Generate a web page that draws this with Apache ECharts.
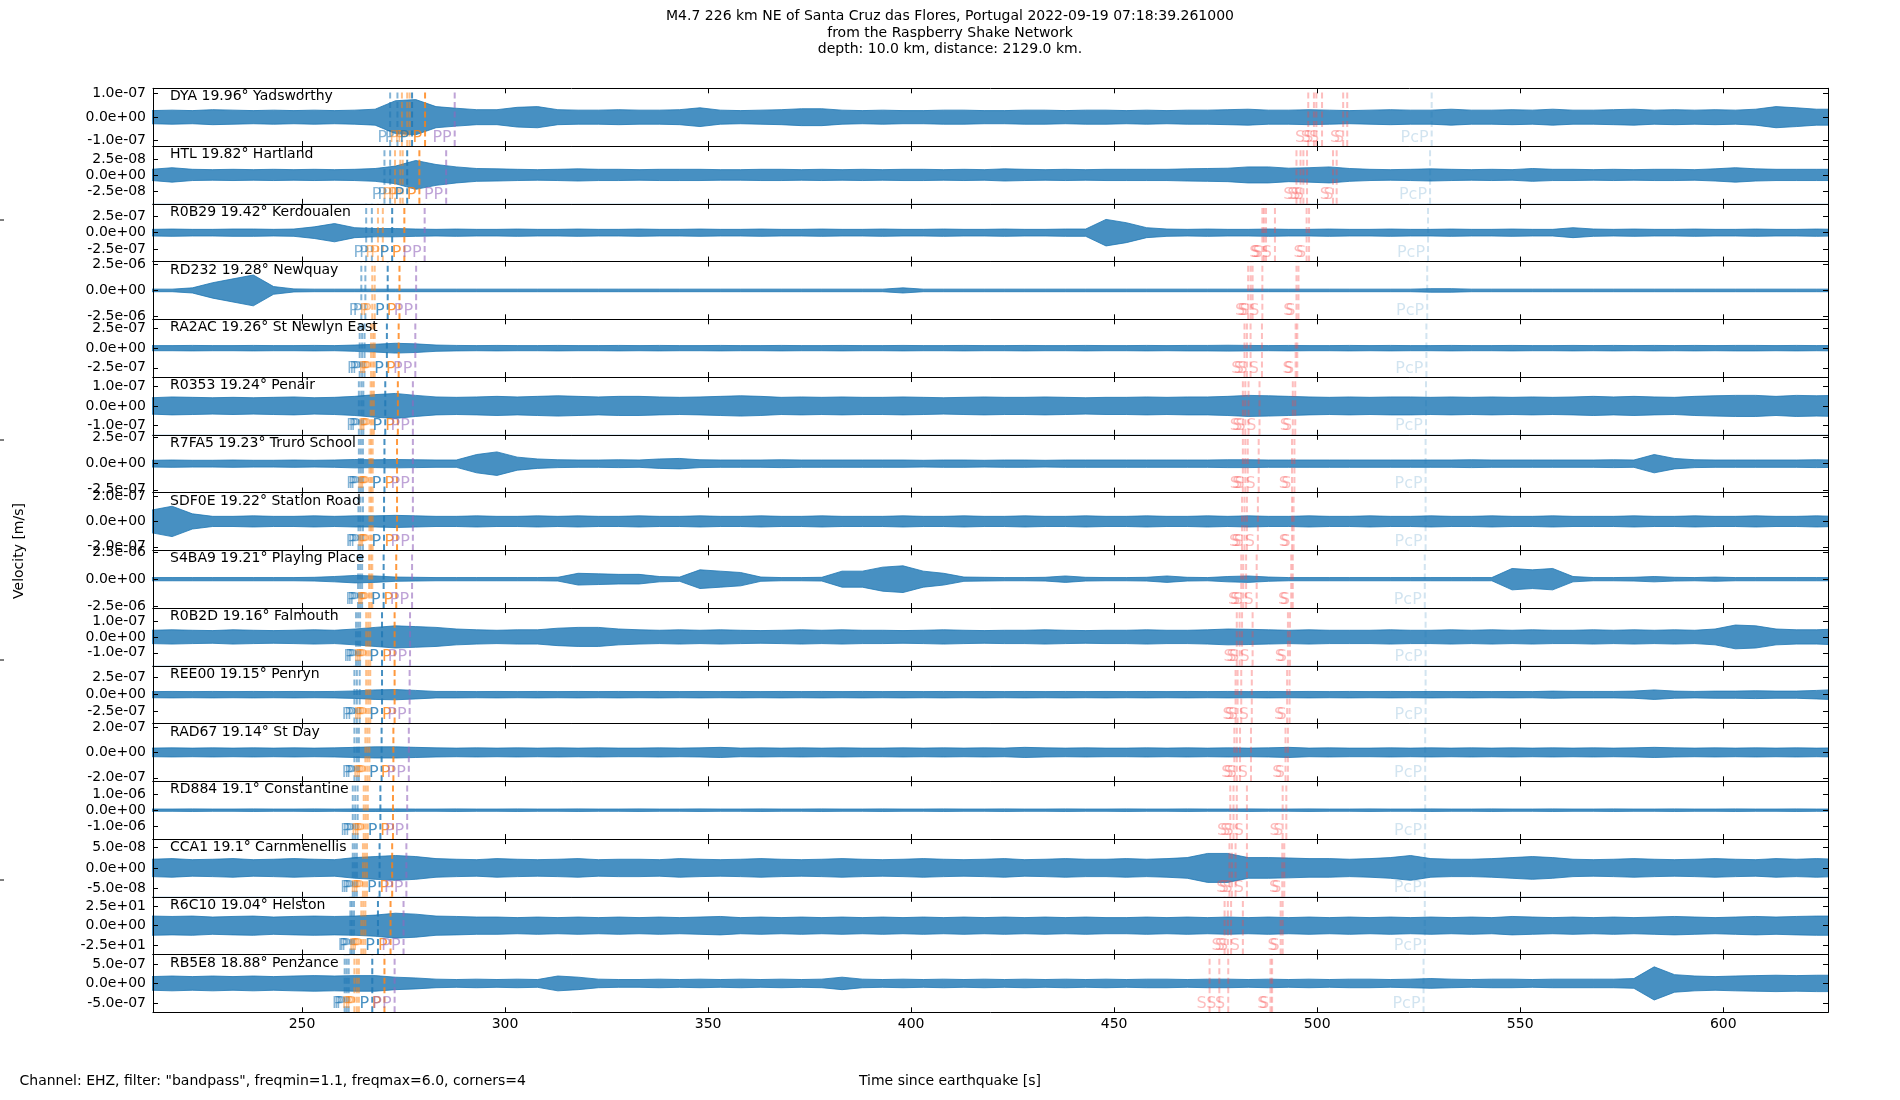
<!DOCTYPE html>
<html>
<head>
<meta charset="utf-8">
<title>M4.7 226 km NE of Santa Cruz das Flores</title>
<script src="https://cdn.jsdelivr.net/npm/echarts@6/dist/echarts.min.js"></script>
<style>
  html, body { margin: 0; padding: 0; background: #fff; }
  #chart { width: 1900px; height: 1100px; }
</style>
</head>
<body>
<div id="chart"></div>
<script>
// stations, top to bottom
const stations = ['DYA', 'HTL', 'R0B29', 'RD232', 'RA2AC', 'R0353', 'R7FA5', 'SDF0E',
  'S4BA9', 'R0B2D', 'REE00', 'RAD67', 'RD884', 'CCA1', 'R6C10', 'RB5E8'];
const distances = [19.96, 19.82, 19.42, 19.28, 19.26, 19.24, 19.23, 19.22,
  19.21, 19.16, 19.15, 19.14, 19.1, 19.1, 19.04, 18.88];
const places = ['Yadsworthy', 'Hartland', 'Kerdoualen', 'Newquay', 'St Newlyn East', 'Penair',
  'Truro School', 'Station Road', 'Playing Place', 'Falmouth', 'Penryn', 'St Day',
  'Constantine', 'Carnmenellis', 'Helston', 'Penzance'];

// y tick value (labelled +/-) and y limit of each panel
const tickValues = [1e-7, 2.5e-8, 2.5e-7, 2.5e-6, 2.5e-7, 1e-7, 2.5e-7, 2e-7,
  2.5e-6, 1e-7, 2.5e-7, 2e-7, 1e-6, 5e-8, 25, 5e-7];
const yLimits = [1.23e-7, 4.5e-8, 4.35e-7, 2.81e-6, 3.68e-7, 1.48e-7, 2.76e-7, 2.28e-7,
  2.70e-6, 1.82e-7, 4.24e-7, 2.28e-7, 1.79e-6, 6.98e-8, 37.6, 7.4e-7];

const xTicks = [250, 300, 350, 400, 450, 500, 550, 600];
const xMin = 213.3, xMax = 625.8;

// amplitude envelope every 5 s from 213 s, in units of the panel's tick value
const envDYA = [
  .28,.30,.28,.32,.30,.28,.30,.28,.30,.28,.30,.34,
  .70,.75,.45,.38,.32,.32,.42,.45,.32,.30,.30,.32,
  .30,.30,.32,.40,.30,.28,.30,.32,.36,.36,.30,.28,
  .30,.28,.28,.30,.30,.28,.28,.30,.30,.28,.30,.30,
  .28,.30,.28,.30,.30,.32,.34,.30,.30,.32,.30,.28,
  .30,.32,.30,.30,.34,.30,.30,.32,.30,.34,.30,.30,
  .32,.34,.30,.32,.30,.32,.30,.34,.45,.40,.34,.34];
const envHTL = [
  .35,.45,.35,.33,.35,.33,.35,.33,.35,.33,.35,.40,
  .55,.90,.65,.50,.40,.38,.35,.33,.35,.38,.35,.35,
  .33,.35,.35,.35,.33,.33,.35,.35,.33,.35,.33,.35,
  .33,.35,.35,.33,.35,.33,.38,.35,.33,.35,.33,.35,
  .35,.35,.35,.38,.40,.42,.50,.50,.42,.45,.50,.40,
  .35,.33,.35,.38,.35,.33,.35,.33,.40,.35,.35,.33,
  .35,.33,.35,.35,.33,.38,.45,.38,.35,.35,.35,.35];
const envR0B29 = [
  .20,.22,.20,.20,.22,.22,.20,.22,.35,.55,.30,.25,
  .25,.22,.20,.22,.20,.20,.22,.20,.20,.22,.20,.20,
  .22,.20,.20,.22,.20,.20,.22,.20,.20,.22,.20,.20,
  .22,.20,.20,.22,.20,.20,.22,.20,.20,.22,.22,.80,
  .60,.30,.22,.20,.22,.20,.20,.22,.20,.20,.22,.20,
  .20,.22,.20,.20,.22,.20,.20,.22,.20,.20,.30,.22,
  .20,.22,.20,.20,.22,.20,.20,.22,.20,.20,.22,.20];
const envRD232 = [
  .05,.05,.10,.30,.45,.60,.15,.06,.05,.05,.05,.05,
  .05,.05,.05,.05,.05,.05,.05,.05,.05,.05,.05,.05,
  .05,.05,.05,.05,.05,.05,.05,.05,.05,.05,.05,.05,
  .05,.10,.05,.05,.05,.05,.05,.05,.05,.05,.05,.05,
  .05,.05,.05,.05,.05,.05,.05,.05,.05,.05,.05,.05,
  .05,.05,.05,.07,.07,.05,.05,.05,.05,.05,.05,.05,
  .05,.05,.05,.05,.05,.05,.05,.05,.05,.05,.05,.05];
const envRA2AC = [
  .13,.13,.14,.13,.13,.14,.13,.13,.14,.13,.16,.20,
  .25,.22,.16,.14,.13,.14,.13,.13,.14,.13,.13,.14,
  .13,.14,.13,.13,.14,.13,.13,.14,.13,.13,.14,.13,
  .13,.14,.13,.13,.14,.13,.13,.14,.13,.13,.14,.13,
  .13,.14,.13,.14,.14,.15,.14,.13,.14,.13,.13,.14,
  .13,.14,.13,.13,.14,.13,.13,.14,.13,.13,.14,.13,
  .14,.13,.14,.13,.14,.13,.14,.14,.13,.14,.13,.14];
const envR0353 = [
  .42,.46,.44,.42,.44,.42,.44,.46,.42,.44,.49,.58,
  .64,.54,.46,.44,.46,.49,.46,.49,.52,.49,.46,.49,
  .49,.46,.44,.46,.49,.52,.49,.44,.46,.44,.46,.44,
  .44,.46,.44,.42,.44,.46,.44,.44,.46,.44,.42,.44,
  .44,.46,.44,.46,.46,.49,.54,.52,.49,.46,.44,.46,
  .44,.46,.46,.44,.46,.44,.46,.44,.46,.44,.46,.49,
  .46,.49,.46,.44,.49,.52,.54,.54,.49,.54,.52,.54];
const envR7FA5 = [
  .13,.14,.13,.13,.14,.13,.13,.14,.13,.14,.16,.15,
  .16,.15,.14,.14,.35,.45,.25,.18,.15,.14,.14,.15,
  .14,.18,.20,.15,.14,.14,.14,.15,.14,.14,.14,.14,
  .14,.14,.13,.14,.14,.13,.14,.14,.13,.14,.14,.14,
  .14,.14,.14,.14,.14,.15,.15,.14,.14,.14,.14,.14,
  .14,.14,.14,.14,.14,.15,.14,.14,.14,.14,.14,.14,
  .15,.14,.35,.20,.15,.14,.14,.14,.14,.14,.15,.14];
const envSDF0E = [
  .45,.60,.30,.20,.20,.22,.20,.20,.22,.20,.22,.22,
  .24,.22,.20,.20,.22,.20,.20,.22,.20,.22,.20,.20,
  .22,.20,.20,.22,.20,.20,.22,.20,.20,.22,.20,.20,
  .20,.22,.20,.20,.22,.20,.20,.22,.20,.20,.22,.20,
  .20,.22,.20,.20,.22,.20,.22,.20,.20,.22,.20,.20,
  .22,.20,.20,.22,.20,.20,.22,.20,.20,.22,.20,.20,
  .20,.22,.20,.20,.22,.20,.20,.22,.20,.20,.22,.20];
const envS4BA9 = [
  .06,.06,.06,.06,.06,.06,.06,.06,.07,.10,.14,.12,
  .08,.07,.06,.06,.06,.06,.06,.06,.07,.22,.20,.18,
  .18,.10,.08,.35,.30,.25,.08,.06,.06,.07,.30,.30,
  .45,.50,.30,.22,.08,.07,.06,.06,.07,.12,.07,.06,
  .06,.07,.12,.07,.06,.10,.12,.08,.06,.06,.06,.06,
  .06,.06,.06,.06,.06,.06,.06,.40,.35,.40,.10,.06,
  .06,.07,.10,.07,.06,.08,.06,.06,.06,.06,.06,.06];
const envR0B2D = [
  .42,.45,.42,.40,.45,.42,.40,.42,.45,.42,.50,.60,
  .70,.65,.60,.50,.45,.42,.45,.45,.55,.60,.60,.50,
  .45,.42,.45,.42,.45,.42,.40,.42,.45,.42,.45,.42,
  .42,.40,.42,.45,.42,.40,.42,.42,.45,.42,.40,.42,
  .42,.45,.42,.42,.45,.50,.48,.45,.42,.45,.42,.42,
  .42,.45,.42,.42,.45,.42,.45,.42,.45,.42,.42,.45,
  .42,.45,.42,.45,.42,.50,.75,.70,.50,.45,.45,.50];
const envREE00 = [
  .18,.19,.18,.19,.18,.19,.18,.19,.18,.19,.22,.28,
  .30,.25,.19,.19,.18,.19,.18,.19,.18,.19,.18,.19,
  .18,.19,.18,.19,.18,.19,.18,.19,.18,.19,.18,.19,
  .18,.19,.18,.19,.18,.19,.18,.19,.18,.19,.18,.19,
  .18,.19,.18,.19,.18,.19,.18,.19,.18,.19,.18,.19,
  .18,.19,.18,.19,.18,.19,.18,.19,.18,.21,.19,.19,
  .19,.21,.28,.21,.19,.21,.21,.23,.21,.21,.25,.30];
const envRAD67 = [
  .17,.18,.17,.18,.17,.18,.17,.18,.17,.18,.20,.22,
  .22,.20,.18,.17,.18,.17,.18,.17,.18,.17,.18,.17,
  .17,.18,.17,.18,.20,.17,.18,.17,.18,.17,.18,.17,
  .17,.18,.17,.18,.17,.18,.17,.20,.18,.17,.18,.17,
  .17,.18,.17,.18,.17,.18,.17,.18,.20,.17,.18,.17,
  .17,.18,.17,.18,.17,.18,.17,.18,.17,.18,.17,.18,
  .17,.18,.20,.18,.17,.18,.17,.18,.17,.18,.17,.18];
const envRD884 = [
  .07,.07,.08,.07,.07,.08,.07,.07,.08,.07,.08,.08,
  .08,.07,.07,.08,.07,.07,.08,.07,.07,.08,.07,.07,
  .08,.07,.07,.08,.07,.07,.08,.07,.07,.08,.07,.07,
  .08,.07,.07,.08,.07,.07,.08,.07,.07,.08,.07,.07,
  .08,.07,.07,.08,.07,.07,.08,.07,.07,.08,.07,.07,
  .08,.07,.07,.08,.07,.07,.08,.07,.07,.08,.07,.07,
  .08,.07,.07,.08,.07,.07,.08,.07,.07,.08,.07,.07];
const envCCA1 = [
  .42,.45,.40,.42,.45,.40,.42,.45,.42,.40,.50,.55,
  .60,.55,.45,.42,.40,.45,.42,.40,.42,.45,.40,.42,
  .42,.40,.45,.42,.40,.42,.45,.42,.40,.42,.45,.42,
  .40,.42,.45,.42,.40,.42,.45,.40,.42,.45,.42,.42,
  .45,.42,.45,.50,.70,.70,.50,.50,.48,.45,.45,.42,
  .45,.50,.60,.45,.42,.42,.45,.50,.55,.50,.42,.40,
  .42,.45,.42,.40,.42,.45,.42,.40,.45,.42,.45,.42];
const envR6C10 = [
  .50,.48,.50,.45,.48,.50,.45,.48,.50,.48,.50,.55,
  .65,.60,.50,.48,.45,.45,.42,.45,.42,.45,.42,.45,
  .42,.45,.42,.45,.48,.42,.45,.42,.45,.42,.45,.42,
  .45,.42,.45,.42,.45,.42,.45,.42,.45,.42,.45,.42,
  .42,.45,.42,.45,.42,.45,.42,.45,.42,.45,.42,.45,
  .42,.45,.42,.45,.42,.45,.42,.48,.45,.42,.45,.42,
  .45,.42,.45,.48,.45,.42,.45,.48,.45,.48,.50,.50];
const envRB5E8 = [
  .35,.38,.35,.38,.35,.38,.35,.38,.40,.38,.40,.40,
  .32,.28,.22,.20,.22,.20,.22,.20,.38,.32,.22,.20,
  .20,.22,.20,.22,.20,.22,.20,.22,.20,.22,.32,.22,
  .20,.22,.20,.22,.20,.22,.20,.22,.20,.22,.20,.22,
  .20,.22,.22,.20,.22,.22,.20,.22,.20,.22,.20,.22,
  .22,.20,.22,.25,.22,.20,.22,.22,.20,.22,.22,.22,
  .22,.25,.85,.45,.38,.35,.38,.40,.42,.40,.42,.42];
const envelopes = [envDYA, envHTL, envR0B29, envRD232, envRA2AC, envR0353, envR7FA5, envSDF0E,
  envS4BA9, envR0B2D, envREE00, envRAD67, envRD884, envCCA1, envR6C10, envRB5E8];

// theoretical arrivals [s]
const pEarly = [[271.7, 273.5], [270.3, 271.7], [265.8, 267.2], [264.6, 265.6],
  [264.2, 264.8, 265.4], [264.0, 264.6, 265.1], [264.0, 264.5, 265.0], [263.9, 264.4, 265.0],
  [263.8, 264.3, 264.8], [263.3, 263.8, 264.3], [262.9, 263.5, 264.2], [262.9, 263.5, 264.0],
  [262.5, 263.1, 263.7], [262.5, 263.0, 263.5], [261.9, 262.3, 262.8], [260.5, 261.0, 261.5]];
const pPEarly = [[274.6, 275.9, 276.5], [272.9, 274.2, 274.8], [268.7, 269.9], [267.3, 267.9],
  [267.0, 267.5, 267.9], [266.9, 267.3, 267.7], [266.6, 267.0, 267.4], [266.6, 267.0, 267.4],
  [266.5, 266.9, 267.3], [265.8, 266.3, 266.8], [265.8, 266.3, 266.8], [265.6, 266.1, 266.6],
  [265.2, 265.7, 266.2], [265.0, 265.5, 266.0], [264.6, 265.1, 265.6], [262.9, 263.5, 264.0]];
const pLate = [277.1, 275.9, 272.2, 271.1, 270.9, 270.5, 270.3, 270.2,
  270.1, 269.7, 269.7, 269.6, 269.3, 269.1, 268.7, 267.3];
const pPLate = [280.3, 278.9, 275.2, 274.0, 273.8, 273.6, 273.4, 273.4,
  273.2, 272.8, 272.8, 272.5, 272.4, 272.2, 271.8, 270.3];
const ppTimes = [287.6, 285.5, 280.2, 278.1, 277.9, 277.3, 277.3, 277.3,
  277.1, 276.6, 276.5, 276.3, 275.9, 275.7, 275.0, 272.8];
const sTimes = [
  [497.8, 499.2, 499.8, 501.2, 506.4, 507.4], [494.9, 495.9, 496.6, 497.5, 503.9, 504.8],
  [486.5, 486.9, 487.4, 489.6, 497.4, 498.0], [483.0, 483.6, 484.1, 486.5, 494.9, 495.4],
  [482.1, 482.7, 483.6, 486.4, 494.7, 495.1], [481.7, 482.3, 483.1, 485.8, 494.0, 494.6],
  [481.7, 482.3, 482.9, 485.6, 493.8, 494.4], [481.5, 482.1, 482.7, 485.4, 493.8, 494.2],
  [481.3, 481.8, 482.5, 485.1, 493.6, 494.0], [480.2, 480.9, 481.5, 484.1, 492.8, 493.3],
  [479.9, 480.4, 481.3, 483.9, 492.6, 493.2], [479.6, 480.2, 481.0, 483.7, 492.2, 492.8],
  [478.6, 479.4, 480.2, 482.7, 491.5, 492.4], [478.4, 479.0, 479.9, 482.7, 491.4, 491.9],
  [477.2, 478.0, 478.8, 481.7, 491.0, 491.5], [473.5, 475.9, 478.1, 488.5, 488.9]];
const pcpTimes = [528.2, 527.8, 527.3, 527.1, 526.9, 526.8, 526.7, 526.7,
  526.5, 526.7, 526.7, 526.6, 526.6, 526.5, 526.5, 526.2];

const phaseKinds = [
  { label: 'P', color: 'rgba(31,119,180,0.55)' },
  { label: 'P', color: 'rgba(255,127,14,0.5)' },
  { label: 'P', color: 'rgba(31,119,180,0.82)' },
  { label: 'P', color: 'rgba(255,127,14,0.8)' },
  { label: 'PP', color: 'rgba(148,103,189,0.6)' },
  { label: 'S', color: 'rgba(250,70,70,0.35)' },
  { label: 'PcP', color: 'rgba(31,119,180,0.2)' }
];

// envelope sample times
const envTimes = [];
for (let i = 0; i < envDYA.length; i++) envTimes.push(213 + 5 * i);

const FONT = '"DejaVu Sans", sans-serif';
const TRACE = '#1f77b4';
const PLOT_LEFT = 153, PLOT_RIGHT = 1828, PLOT_TOP = 88.3, PANEL_H = 57.75;
const N = stations.length;

function sci(v) {
  if (v === 0) return '0.0e+00';
  const parts = v.toExponential(1).split('e');
  const n = parseInt(parts[1], 10);
  return parts[0] + 'e' + (n < 0 ? '-' : '+') + String(Math.abs(n)).padStart(2, '0');
}

const grid = [], xAxis = [], yAxis = [], series = [];
const graphic = [];

stations.forEach(function (name, k) {
  const top = PLOT_TOP + k * PANEL_H;
  const tv = tickValues[k], ym = yLimits[k];
  const yt = [-tv, 0, tv];
  const line = { show: true, onZero: false, lineStyle: { color: '#000', width: 1 } };
  const tickStyle = { color: '#000', width: 1 };

  grid.push({ left: PLOT_LEFT, top: top, width: PLOT_RIGHT - PLOT_LEFT, height: PANEL_H });

  ['bottom', 'top'].forEach(function (pos) {
    xAxis.push({
      type: 'value', gridIndex: k, position: pos, min: xMin, max: xMax, z: 6,
      axisLine: line,
      axisTick: { show: true, inside: true, length: 5, customValues: xTicks, lineStyle: tickStyle },
      axisLabel: {
        show: pos === 'bottom' && k === N - 1, customValues: xTicks, margin: 5,
        color: '#000', fontSize: 14, fontFamily: FONT
      },
      splitLine: { show: false }
    });
  });
  ['left', 'right'].forEach(function (pos) {
    yAxis.push({
      type: 'value', gridIndex: k, position: pos, min: -ym, max: ym, z: 6,
      axisLine: line,
      axisTick: { show: true, inside: true, length: 5, customValues: yt, lineStyle: tickStyle },
      axisLabel: {
        show: pos === 'left', customValues: yt, margin: 7, formatter: sci,
        color: '#000', fontSize: 14, fontFamily: FONT
      },
      splitLine: { show: false }
    });
  });

  // trace drawn as its envelope: blue fill down from the upper edge,
  // then white fill down from the lower edge
  const env = envelopes[k];
  series.push({
    type: 'line', xAxisIndex: 2 * k, yAxisIndex: 2 * k, silent: true, symbol: 'none', z: 2,
    lineStyle: { color: TRACE, width: 0.8 },
    areaStyle: { color: TRACE, opacity: 0.82, origin: 'start' },
    data: envTimes.map(function (t, i) { return [t, env[i] * tv]; })
  });
  series.push({
    type: 'line', xAxisIndex: 2 * k, yAxisIndex: 2 * k, silent: true, symbol: 'none', z: 2,
    lineStyle: { color: TRACE, width: 0.8 },
    areaStyle: { color: '#fff', opacity: 1, origin: 'start' },
    data: envTimes.map(function (t, i) { return [t, -env[i] * tv]; })
  });

  // phase arrivals
  let arrivals = [];
  pEarly[k].forEach(function (t) { arrivals.push([t, 0]); });
  pPEarly[k].forEach(function (t) { arrivals.push([t, 1]); });
  arrivals.push([pLate[k], 2]);
  arrivals.push([pPLate[k], 3]);
  arrivals.push([ppTimes[k], 4]);
  sTimes[k].forEach(function (t) { arrivals.push([t, 5]); });
  arrivals.push([pcpTimes[k], 6]);

  series.push({
    type: 'custom', xAxisIndex: 2 * k, yAxisIndex: 2 * k, silent: true, z: 4,
    encode: { x: 0, y: 1 },
    data: arrivals,
    renderItem: function (params, api) {
      const t = api.value(0);
      const kind = phaseKinds[api.value(1)];
      const p1 = api.coord([t, ym]);
      const p0 = api.coord([t, -ym]);
      return {
        type: 'group',
        children: [
          {
            type: 'line',
            shape: { x1: p0[0], y1: p0[1], x2: p1[0], y2: p1[1] },
            style: { stroke: kind.color, lineWidth: 2, lineDash: [6, 3.5], fill: null }
          },
          {
            type: 'text',
            style: {
              text: kind.label, x: p0[0] - 3, y: p0[1] - 8.5, fill: kind.color,
              font: '16px ' + FONT, align: 'right', verticalAlign: 'middle'
            }
          }
        ]
      };
    }
  });

  graphic.push({
    type: 'text', x: 170, y: top + 8.5, z: 10,
    style: {
      text: name + ' ' + distances[k] + '\u00b0 ' + places[k],
      font: '14px ' + FONT, fill: '#000', align: 'left', verticalAlign: 'middle'
    }
  });
});

const titleLines = [
  'M4.7 226 km NE of Santa Cruz das Flores, Portugal 2022-09-19 07:18:39.261000',
  'from the Raspberry Shake Network',
  'depth: 10.0 km, distance: 2129.0 km.'
];
titleLines.forEach(function (txt, i) {
  graphic.push({
    type: 'text', x: 950, y: 16.7 + i * 16.4,
    style: { text: txt, font: '14px ' + FONT, fill: '#000', align: 'center', verticalAlign: 'middle' }
  });
});
graphic.push({
  type: 'text', x: 19.5, y: 1081.7,
  style: {
    text: 'Channel: EHZ, filter: "bandpass", freqmin=1.1, freqmax=6.0, corners=4',
    font: '14px ' + FONT, fill: '#000', align: 'left', verticalAlign: 'middle'
  }
});
graphic.push({
  type: 'text', x: 950, y: 1081.7,
  style: { text: 'Time since earthquake [s]', font: '14px ' + FONT, fill: '#000', align: 'center', verticalAlign: 'middle' }
});
graphic.push({
  type: 'text', x: 19, y: 551, rotation: Math.PI / 2,
  style: { text: 'Velocity [m/s]', font: '14px ' + FONT, fill: '#000', align: 'center', verticalAlign: 'middle' }
});
// ticks of the figure-level frame on the left edge
[220, 440, 660, 880].forEach(function (y) {
  graphic.push({ type: 'line', shape: { x1: 0, y1: y, x2: 4, y2: y }, style: { stroke: '#000', lineWidth: 1 } });
});

const myChart = echarts.init(document.getElementById('chart'), null, { renderer: 'canvas' });
const option = {
  backgroundColor: '#fff',
  animation: false,
  grid: grid,
  xAxis: xAxis,
  yAxis: yAxis,
  series: series,
  graphic: graphic
};
myChart.setOption(option);
</script>
</body>
</html>
